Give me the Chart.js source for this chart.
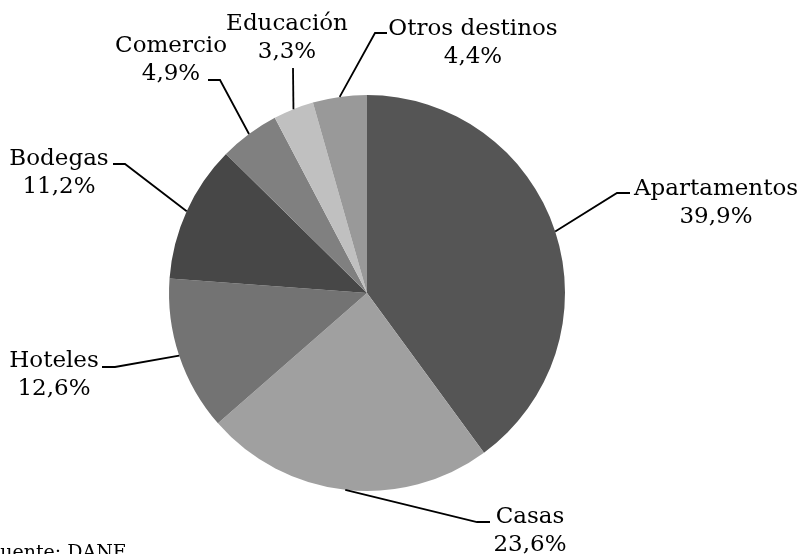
<!doctype html>
<html lang="es">
<head>
    <meta charset="utf-8">
    <title>Destinos</title>
    <script src="https://cdn.jsdelivr.net/npm/chart.js"></script>
    <style>
        body { margin: 0; background: #fff; }
        .chart-container { position: relative; width: 800px; height: 554px; }
    </style>
</head>
<body>
<div class="chart-container">
    <canvas id="pie-chart"></canvas>
</div>
<script>
    // DATA
    const categories = ['Apartamentos', 'Casas', 'Hoteles', 'Bodegas', 'Comercio', 'Educación', 'Otros destinos'];
    const shares = [39.9, 23.6, 12.6, 11.2, 4.9, 3.3, 4.4];
    const sliceColors = ['#555555', '#a0a0a0', '#737373', '#474747', '#808080', '#c0c0c0', '#999999'];
    const source = 'Fuente: DANE';

    // label placement: elbow of the leader line, end of the horizontal tick, text centre + first baseline
    const labelLayout = [
        {elbow: [617, 193], tick: [630, 193], text: [716, 195]},
        {elbow: [477, 522], tick: [490, 522], text: [530, 523]},
        {elbow: [115, 367], tick: [102, 367], text: [54, 367]},
        {elbow: [125, 164], tick: [113, 164], text: [59, 165]},
        {elbow: [220, 80], tick: [208, 80], text: [171, 52]},
        {elbow: [293, 68], tick: null, text: [287, 30]},
        {elbow: [375, 33], tick: [387, 33], text: [473, 35]}
    ];

    const FONT = '23px "DejaVu Serif"';
    const LINE_GAP = 28;

    function fmt(v) {
        return v.toFixed(1).replace('.', ',') + '%';
    }

    const leaderLabels = {
        id: 'leaderLabels',
        afterDraw(chart) {
            const ctx = chart.ctx;
            const arcs = chart.getDatasetMeta(0).data;
            ctx.save();
            ctx.strokeStyle = '#000';
            ctx.lineWidth = 1.8;
            ctx.fillStyle = '#000';
            ctx.font = FONT;
            ctx.textAlign = 'center';
            ctx.textBaseline = 'alphabetic';
            arcs.forEach((arc, i) => {
                const p = arc.getProps(['x', 'y', 'startAngle', 'endAngle', 'outerRadius'], true);
                const mid = (p.startAngle + p.endAngle) / 2;
                const ex = p.x + Math.cos(mid) * p.outerRadius;
                const ey = p.y + Math.sin(mid) * p.outerRadius;
                const lay = labelLayout[i];
                ctx.beginPath();
                ctx.moveTo(ex, ey);
                ctx.lineTo(lay.elbow[0], lay.elbow[1]);
                if (lay.tick) ctx.lineTo(lay.tick[0], lay.tick[1]);
                ctx.stroke();
                ctx.fillText(categories[i], lay.text[0], lay.text[1]);
                ctx.fillText(fmt(shares[i]), lay.text[0], lay.text[1] + LINE_GAP);
            });
            // source note, cut at the lower left corner
            ctx.textAlign = 'left';
            ctx.font = '19px "DejaVu Serif"';
            ctx.fillText(source, -13, 558);
            ctx.restore();
        }
    };

    new Chart(document.getElementById('pie-chart').getContext('2d'), {
        type: 'pie',
        plugins: [leaderLabels],
        data: {
            labels: categories,
            datasets: [{
                data: shares,
                backgroundColor: sliceColors,
                borderWidth: 0
            }]
        },
        options: {
            responsive: true,
            maintainAspectRatio: false,
            animation: false,
            layout: {
                padding: {left: 169, right: 235, top: 95, bottom: 63}
            },
            plugins: {
                legend: {display: false},
                tooltip: {enabled: false}
            }
        }
    });
</script>
</body>
</html>
